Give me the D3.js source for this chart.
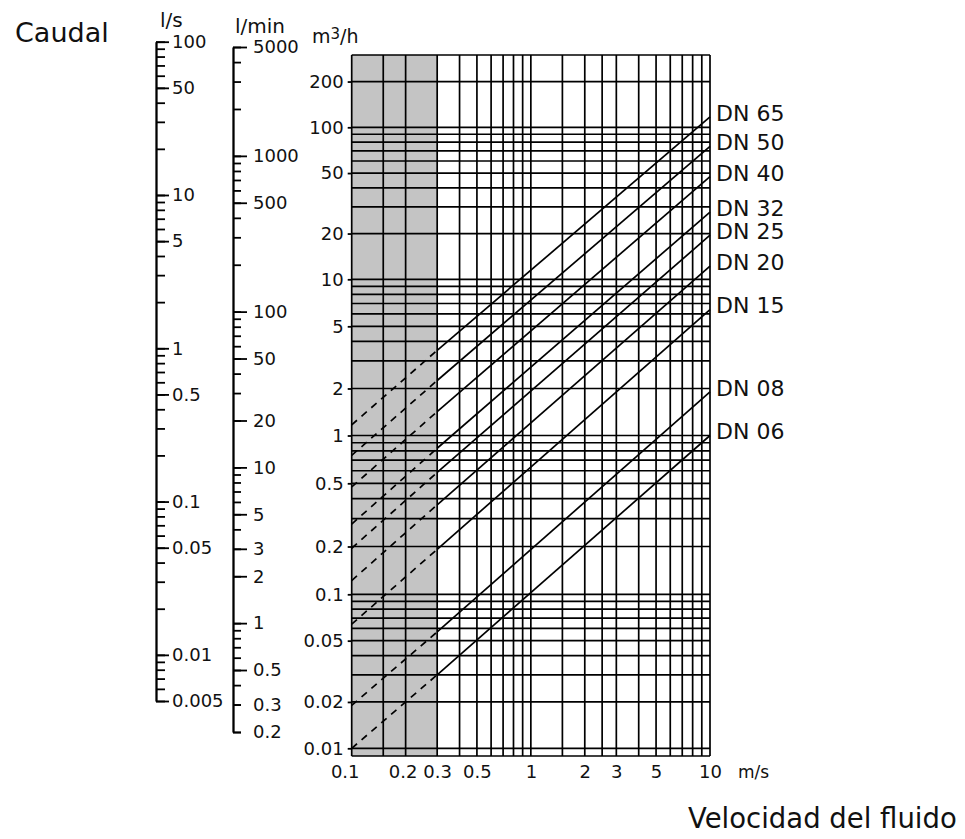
<!DOCTYPE html>
<html>
<head>
<meta charset="utf-8">
<title>Caudal - velocidad del fluido</title>
<script src="https://cdn.jsdelivr.net/npm/d3@7"></script>
<style>
body { margin: 0; background: #fff; }
text { font-family: "DejaVu Sans", sans-serif; fill: #111; }
.grid line { stroke: #000; stroke-width: 1.7; }
.pipe { fill: none; stroke: #000; stroke-width: 1.7; }
.scale path, .scale line { stroke: #000; stroke-width: 1.8; }
</style>
</head>
<body>
<svg id="chart" width="965" height="839"></svg>
<script>
// pipe sizes and the flow (m3/h) each one carries at 10 m/s
var dnNames  = ["DN 65", "DN 50", "DN 40", "DN 32", "DN 25", "DN 20", "DN 15", "DN 08", "DN 06"];
var flowAt10 = [117, 75, 47.4, 27.7, 19.5, 12.2, 6.4, 1.9, 1.0];

// velocity grid (m/s) and labels
var vGrid   = [0.1, 0.15, 0.2, 0.3, 0.4, 0.5, 0.6, 0.7, 0.8, 0.9, 1, 1.5, 2, 2.5, 3, 4, 5, 6, 7, 8, 9, 10];
var vLabels = [0.1, 0.2, 0.3, 0.5, 1, 2, 3, 5, 10];
var shaded  = [0.1, 0.3];      // range drawn dashed / grey
var vEnd    = 10;

// flow axes labels
var qLabels    = [200, 100, 50, 20, 10, 5, 2, 1, 0.5, 0.2, 0.1, 0.05, 0.02, 0.01];
var lsLabels   = [100, 50, 10, 5, 1, 0.5, 0.1, 0.05, 0.01, 0.005];
var lminLabels = [5000, 1000, 500, 100, 50, 20, 10, 5, 3, 2, 1, 0.5, 0.3, 0.2];
var lminShort  = [0.3, 0.2];

var svg = d3.select("#chart");
var plotLeft = 351.7, plotRight = 710, plotTop = 55, plotBottom = 756;

var x = d3.scaleLog().domain([0.1, 10]).range([plotLeft, plotRight]);
// the printed decades are not quite even, so map each one
var y = d3.scaleLog().domain([0.01, 0.1, 1, 10, 100]).range([748.3, 594.3, 435.5, 279.3, 127.3]);
var ls = d3.scaleLog().domain([0.005, 100]).range([701, 41.7]);
var lmin = d3.scaleLog().domain([0.2, 5000]).range([732, 47]);

var qGrid = y.ticks().concat([200]);

// grey band
svg.append("rect")
    .attr("x", x(shaded[0]))
    .attr("y", plotTop)
    .attr("width", x(shaded[1]) - x(shaded[0]))
    .attr("height", plotBottom - plotTop)
    .attr("fill", "#c4c4c4");

var grid = svg.append("g").attr("class", "grid");
grid.selectAll(".v").data(vGrid).enter().append("line")
    .attr("x1", function(d) { return x(d); })
    .attr("x2", function(d) { return x(d); })
    .attr("y1", plotTop).attr("y2", plotBottom);
grid.selectAll(".h").data(qGrid).enter().append("line")
    .attr("x1", plotLeft).attr("x2", plotRight)
    .attr("y1", function(d) { return y(d); })
    .attr("y2", function(d) { return y(d); });
grid.append("line").attr("x1", plotLeft).attr("x2", plotRight).attr("y1", plotTop).attr("y2", plotTop);
grid.append("line").attr("x1", plotLeft).attr("x2", plotRight).attr("y1", plotBottom).attr("y2", plotBottom);

// pipe lines: Q = k * v
var line = d3.line()
    .x(function(d) { return x(d[0]); })
    .y(function(d) { return y(d[1]); });

var pipes = svg.append("g");
flowAt10.forEach(function(q10, i) {
  var q = function(v) { return q10 * v / vEnd; };
  pipes.append("path").attr("class", "pipe")
      .attr("d", line([[shaded[1], q(shaded[1])], [vEnd, q(vEnd)]]));
  pipes.append("path").attr("class", "pipe")
      .attr("stroke-dasharray", "7,6")
      .attr("d", line([[shaded[0], q(shaded[0])], [shaded[1], q(shaded[1])]]));
  svg.append("text")
      .attr("x", plotRight + 6)
      .attr("y", y(q(vEnd)) - 4)
      .attr("dy", "0.36em")
      .attr("font-size", 22)
      .text(dnNames[i]);
});

// m3/h axis
var qAxis = svg.append("g").attr("class", "scale")
    .attr("transform", "translate(" + plotLeft + ",0)")
    .call(d3.axisLeft(y).tickValues(qLabels).tickSize(4).tickSizeOuter(0).tickPadding(4).tickFormat(String));
qAxis.select(".domain").remove();
qAxis.selectAll("text").attr("font-size", 18).attr("font-family", "DejaVu Sans").attr("fill", "#111");

// velocity axis
var vAxis = svg.append("g").attr("class", "scale")
    .attr("transform", "translate(0," + plotBottom + ")")
    .call(d3.axisBottom(x).tickValues(vLabels).tickSize(0).tickPadding(9).tickFormat(String));
vAxis.select(".domain").remove();
vAxis.selectAll("text").attr("font-size", 18).attr("font-family", "DejaVu Sans").attr("fill", "#111")
    .attr("dx", function(d) { return d === 0.1 ? -7 : (d === 0.2 ? -3 : 0); });

// l/s axis
var lsG = svg.append("g").attr("class", "scale").attr("transform", "translate(156,0)");
lsG.call(d3.axisRight(ls).tickValues(ls.ticks()).tickSize(9).tickSizeOuter(0).tickFormat(""));
lsG.append("g")
    .call(d3.axisRight(ls).tickValues(lsLabels).tickSize(13).tickSizeOuter(0).tickPadding(3).tickFormat(String))
    .selectAll("text").attr("font-size", 18).attr("font-family", "DejaVu Sans").attr("fill", "#111");

// l/min axis
var lminG = svg.append("g").attr("class", "scale").attr("transform", "translate(233,0)");
lminG.call(d3.axisRight(lmin).tickValues(lmin.ticks()).tickSize(8).tickSizeOuter(0).tickFormat(""));
var lminMajor = lminG.append("g")
    .call(d3.axisRight(lmin).tickValues(lminLabels).tickSize(14).tickSizeOuter(0).tickPadding(6).tickFormat(String));
lminMajor.selectAll(".tick line").attr("x2", function(d) { return lminShort.indexOf(d) >= 0 ? 8 : 14; });
lminMajor.selectAll("text").attr("font-size", 18).attr("font-family", "DejaVu Sans").attr("fill", "#111");

// titles and units
svg.append("text").attr("x", 15).attr("y", 42).attr("font-size", 27).text("Caudal");
svg.append("text").attr("x", 160).attr("y", 27).attr("font-size", 20).text("l/s");
svg.append("text").attr("x", 235).attr("y", 33).attr("font-size", 20).text("l/min");
var m3 = svg.append("text").attr("x", 312).attr("y", 43).attr("font-size", 19);
m3.append("tspan").text("m");
m3.append("tspan").attr("font-size", 15).attr("dy", -4).text("3");
m3.append("tspan").attr("dy", 4).text("/h");
svg.append("text").attr("x", 738).attr("y", 778).attr("font-size", 17).text("m/s");
svg.append("text").attr("x", 688).attr("y", 828).attr("font-size", 27.5).text("Velocidad del fluido");
</script>
</body>
</html>
